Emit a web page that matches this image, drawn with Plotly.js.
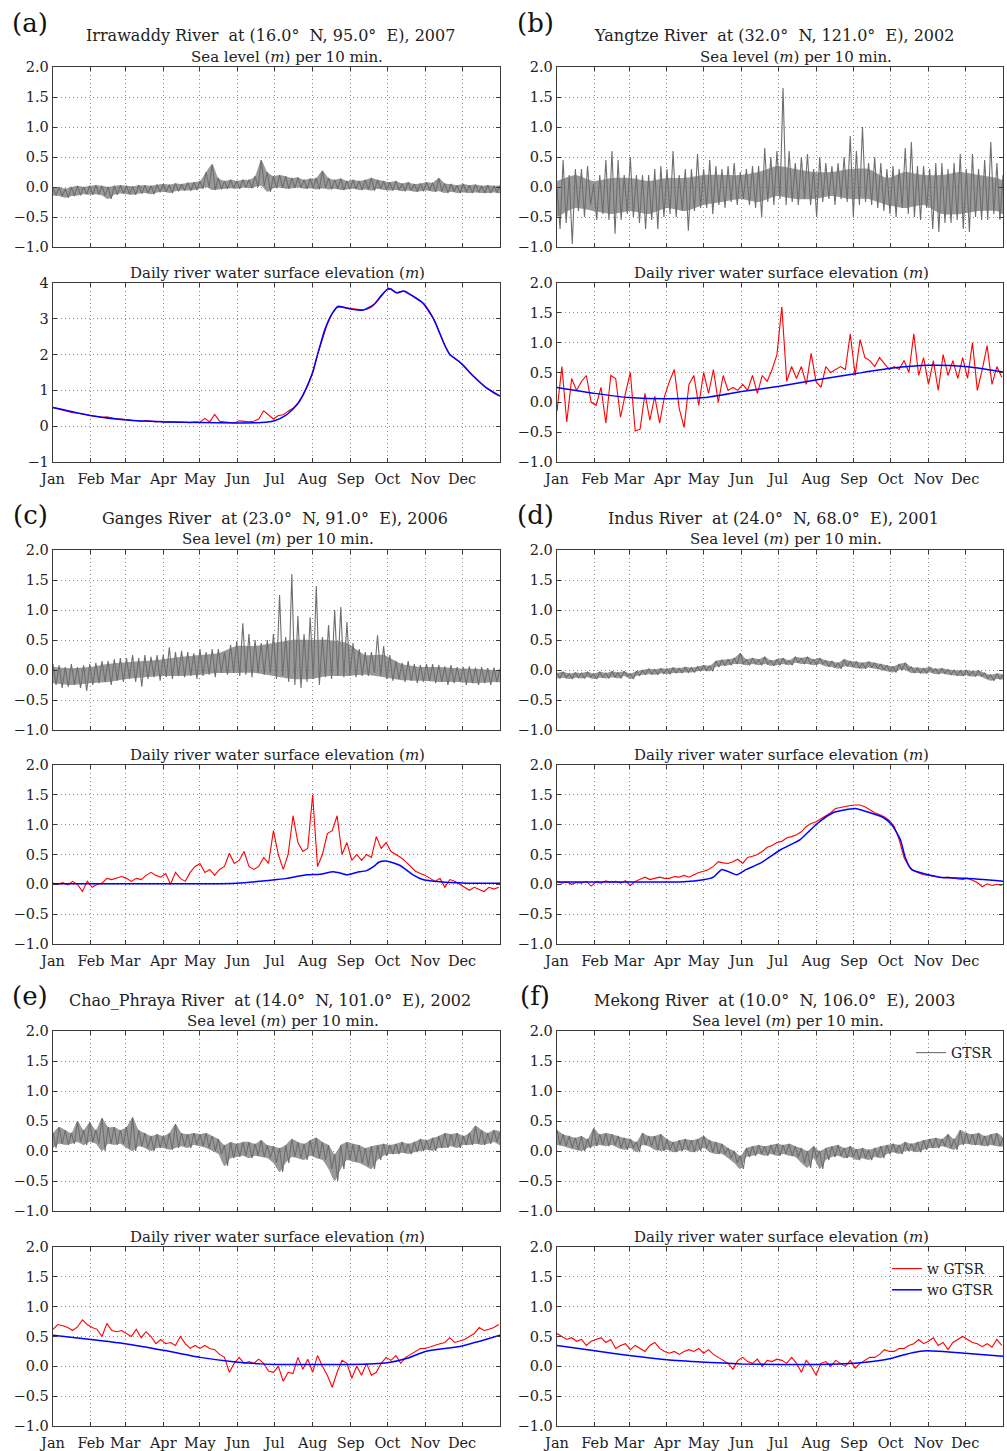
<!DOCTYPE html>
<html><head><meta charset="utf-8">
<script src="https://cdn.plot.ly/plotly-3.0.1.min.js"></script>
<style>html,body{margin:0;padding:0;background:#fff}#chart{width:1007px;height:1451px}</style>
</head><body><div id="chart"></div>
<script>
// ---------------- data ----------------
const months = ['Jan','Feb','Mar','Apr','May','Jun','Jul','Aug','Sep','Oct','Nov','Dec'];
const monthStartDays = [0,31,59,90,120,151,181,212,243,273,304,334];
const panelLetters = ['(a)','(b)','(c)','(d)','(e)','(f)'];
const riverNames = ['Irrawaddy','Yangtze','Ganges','Indus','Chao_Phraya','Mekong'];
const latitudes = ['16.0','32.0','23.0','24.0','14.0','10.0'];
const longitudes = ['95.0','121.0','91.0','68.0','101.0','106.0'];
const years = ['2007','2002','2006','2001','2002','2003'];
const seaTitle = 'Sea level (<i>m</i>) per 10 min.';
const riverTitle = 'Daily river water surface elevation (<i>m</i>)';

// sea level (10-min GTSR) band: upper / lower values read every 5 days (day 0..365)
const seaHiA = [-0.02,0.0,-0.03,0.0,0.02,0.0,0.02,0.03,0.02,0.0, 0.02,0.03,0.02,0.01,0.03,0.03,0.02,0.04,0.05,0.04, 0.06,0.05,0.07,0.08,0.1,0.25,0.38,0.15,0.1,0.12, 0.1,0.12,0.12,0.18,0.45,0.25,0.18,0.2,0.18,0.15, 0.16,0.12,0.14,0.15,0.27,0.15,0.12,0.14,0.1,0.12, 0.1,0.12,0.15,0.12,0.1,0.08,0.1,0.06,0.08,0.05, 0.06,0.08,0.07,0.15,0.06,0.05,0.03,0.05,0.03,0.04, 0.02,0.03,0.02,0.02];
const seaLoA = [-0.14,-0.15,-0.18,-0.15,-0.14,-0.12,-0.13,-0.12,-0.14,-0.2, -0.13,-0.11,-0.12,-0.13,-0.11,-0.1,-0.12,-0.09,-0.08,-0.1, -0.07,-0.06,-0.06,-0.05,-0.03,0.0,-0.05,-0.04,-0.03,-0.02, -0.03,-0.01,-0.02,0.0,0.02,-0.08,-0.02,-0.01,-0.03,-0.02, -0.01,-0.03,-0.02,-0.04,-0.02,-0.04,-0.03,-0.05,-0.04,-0.03, -0.05,-0.04,-0.06,-0.03,-0.05,-0.06,-0.05,-0.07,-0.06,-0.08, -0.07,-0.06,-0.08,-0.07,-0.1,-0.08,-0.1,-0.09,-0.1,-0.09, -0.1,-0.1,-0.09,-0.1];
const seaHiB = [0.0,0.45,0.2,0.3,0.3,0.35,0.05,0.2,0.45,0.6, 0.45,0.2,0.5,0.2,0.2,0.2,0.3,0.35,0.3,0.6, 0.2,0.3,0.3,0.55,0.3,0.45,0.35,0.3,0.35,0.4, 0.25,0.3,0.35,0.35,0.65,0.5,0.6,1.65,0.6,0.4, 0.5,0.55,0.3,0.5,0.4,0.35,0.4,0.5,0.85,0.6, 1.0,0.4,0.5,0.4,0.3,0.35,0.3,0.65,0.75,0.35, 0.35,0.3,0.4,0.4,0.3,0.4,0.55,0.3,0.55,0.3, 0.45,0.75,0.4,0.2];
const seaLoB = [-0.7,-0.6,-0.95,-0.4,-0.5,-0.3,-0.55,-0.45,-0.55,-0.78, -0.55,-0.45,-0.5,-0.6,-0.7,-0.55,-0.7,-0.5,-0.45,-0.5, -0.4,-0.73,-0.4,-0.35,-0.35,-0.45,-0.3,-0.35,-0.25,-0.3, -0.2,-0.3,-0.35,-0.5,-0.25,-0.3,-0.2,-0.3,-0.25,-0.3, -0.2,-0.3,-0.5,-0.25,-0.2,-0.3,-0.2,-0.25,-0.5,-0.3, -0.25,-0.3,-0.35,-0.4,-0.45,-0.5,-0.35,-0.45,-0.5,-0.55, -0.35,-0.7,-0.75,-0.6,-0.6,-0.55,-0.7,-0.75,-0.5,-0.55, -0.55,-0.45,-0.55,-0.6];
const seaHiC = [0.1,0.08,0.05,0.1,0.05,0.08,0.1,0.12,0.15,0.15, 0.18,0.2,0.2,0.25,0.2,0.25,0.22,0.25,0.25,0.38, 0.3,0.32,0.3,0.28,0.35,0.3,0.35,0.35,0.3,0.42, 0.48,0.78,0.6,0.5,0.45,0.5,0.6,1.25,0.55,1.6, 0.9,0.6,0.88,1.4,0.55,0.75,1.0,1.05,0.8,0.45, 0.35,0.3,0.3,0.58,0.4,0.25,0.15,0.12,0.15,0.1, 0.08,0.1,0.1,0.08,0.06,0.08,0.05,0.05,0.06,0.04, 0.05,0.03,0.04,0.02];
const seaLoC = [-0.25,-0.3,-0.28,-0.25,-0.3,-0.35,-0.25,-0.22,-0.2,-0.25, -0.18,-0.2,-0.15,-0.2,-0.28,-0.15,-0.12,-0.18,-0.12,-0.15, -0.1,-0.12,-0.1,-0.15,-0.1,-0.08,-0.12,-0.05,-0.08,-0.05, -0.1,-0.08,-0.12,-0.05,-0.08,-0.05,-0.15,-0.1,-0.2,-0.25, -0.3,-0.2,-0.15,-0.25,-0.12,-0.15,-0.1,-0.12,-0.1,-0.12, -0.1,-0.1,-0.05,-0.1,-0.15,-0.18,-0.15,-0.2,-0.18,-0.22, -0.2,-0.18,-0.22,-0.2,-0.25,-0.22,-0.2,-0.25,-0.22,-0.25, -0.22,-0.25,-0.2,-0.22];
const seaHiD = [-0.05,-0.03,-0.06,-0.04,-0.05,-0.03,-0.06,-0.03,-0.05,-0.02, -0.04,-0.02,-0.06,-0.02,0.0,0.02,0.01,0.03,0.02,0.04, 0.03,0.05,0.04,0.06,0.08,0.07,0.15,0.17,0.18,0.2, 0.28,0.18,0.2,0.18,0.22,0.16,0.18,0.2,0.16,0.22, 0.2,0.22,0.18,0.2,0.16,0.15,0.12,0.18,0.15,0.14, 0.12,0.14,0.12,0.1,0.08,0.06,0.1,0.12,0.05,0.04, 0.03,0.05,0.02,0.03,0.01,0.0,-0.01,0.0,-0.02,-0.01, -0.05,-0.08,-0.06,-0.08];
const seaLoD = [-0.14,-0.13,-0.15,-0.13,-0.14,-0.12,-0.15,-0.13,-0.14,-0.12, -0.14,-0.1,-0.15,-0.1,-0.08,-0.07,-0.08,-0.06,-0.07,-0.05, -0.05,-0.04,-0.04,-0.02,-0.01,-0.02,0.05,0.07,0.08,0.1, 0.1,0.08,0.1,0.08,0.1,0.07,0.08,0.1,0.08,0.12, 0.1,0.1,0.08,0.1,0.06,0.05,0.02,0.06,0.05,0.03, 0.02,0.04,0.02,0.0,-0.02,-0.04,0.0,0.0,-0.05,-0.05, -0.06,-0.04,-0.07,-0.06,-0.08,-0.09,-0.1,-0.09,-0.11,-0.1, -0.14,-0.18,-0.15,-0.16];
const seaHiE = [0.3,0.4,0.35,0.3,0.5,0.35,0.48,0.35,0.55,0.4, 0.4,0.35,0.4,0.56,0.35,0.3,0.25,0.28,0.25,0.3, 0.45,0.3,0.28,0.3,0.28,0.3,0.25,0.2,0.1,0.15, 0.12,0.15,0.15,0.12,0.18,0.1,0.08,0.05,0.1,0.2, 0.15,0.12,0.18,0.22,0.15,0.1,-0.05,0.1,0.15,0.12, 0.1,0.05,0.08,0.1,0.12,0.1,0.12,0.15,0.12,0.15, 0.2,0.18,0.22,0.25,0.3,0.28,0.3,0.25,0.3,0.42, 0.35,0.3,0.35,0.32];
const seaLoE = [0.05,0.12,0.1,0.12,0.15,0.1,0.15,0.12,0.0,0.12, 0.1,0.12,0.05,0.0,0.08,0.05,0.0,0.05,0.05,0.02, 0.05,0.08,0.05,0.1,0.08,0.05,0.0,-0.05,-0.25,-0.12, -0.1,-0.08,-0.12,-0.08,-0.1,-0.12,-0.2,-0.35,-0.2,-0.1, -0.12,-0.15,-0.08,-0.12,-0.15,-0.3,-0.5,-0.3,-0.15,-0.18, -0.2,-0.25,-0.3,-0.15,-0.08,-0.05,-0.05,-0.03,-0.05,-0.02, 0.0,0.02,0.0,0.05,0.05,0.08,0.05,0.1,0.1,0.12, 0.1,0.12,0.15,0.1];
const seaHiF = [0.35,0.28,0.25,0.22,0.25,0.2,0.38,0.28,0.3,0.28, 0.25,0.22,0.2,0.15,0.3,0.25,0.25,0.28,0.2,0.15, 0.18,0.2,0.18,0.2,0.25,0.18,0.15,0.12,0.05,0.0, -0.08,0.05,0.08,0.1,0.08,0.1,0.12,0.1,0.12,0.08, 0.05,0.0,0.08,0.0,0.05,0.08,0.1,0.05,0.08,0.03, 0.05,0.02,0.05,0.08,0.1,0.12,0.1,0.15,0.12,0.15, 0.18,0.2,0.22,0.2,0.28,0.2,0.35,0.3,0.28,0.3, 0.25,0.28,0.3,0.22];
const seaLoF = [0.1,0.08,0.05,0.02,0.0,0.05,0.08,0.1,0.08,0.1, 0.05,0.02,0.05,-0.02,0.1,0.08,0.02,0.0,0.02,-0.02, 0.0,0.02,-0.02,0.0,0.05,-0.02,-0.05,-0.05,-0.12,-0.2, -0.3,-0.1,-0.08,-0.05,-0.08,-0.05,-0.08,-0.05,-0.08,-0.1, -0.2,-0.28,-0.12,-0.3,-0.15,-0.1,-0.08,-0.12,-0.1,-0.15, -0.12,-0.15,-0.1,-0.12,-0.05,-0.02,-0.05,0.0,0.0,-0.02, 0.02,0.05,0.05,0.08,0.05,0.02,0.1,0.12,0.1,0.1, 0.08,0.1,0.08,0.08];

// dense core of the noisier sea-level records (b, c), read at these days
const coreDays = [0,15,30,45,60,75,90,105,120,135,150,165,180,195,210,225,240,255,270,285,300,315,330,345,360,365];
const seaCoreHiB = [0.1,0.2,0.1,0.15,0.15,0.1,0.15,0.15,0.2,0.2,0.2,0.25,0.35,0.3,0.25,0.25,0.3,0.3,0.15,0.25,0.2,0.2,0.25,0.2,0.15,0.1];
const seaCoreLoB = [-0.5,-0.35,-0.4,-0.45,-0.4,-0.45,-0.35,-0.4,-0.3,-0.25,-0.2,-0.25,-0.15,-0.2,-0.2,-0.15,-0.2,-0.2,-0.3,-0.35,-0.3,-0.45,-0.45,-0.4,-0.4,-0.45];
const seaCoreHiC = [0.05,0.03,0.05,0.1,0.13,0.15,0.18,0.22,0.25,0.28,0.4,0.4,0.45,0.5,0.5,0.5,0.45,0.25,0.25,0.1,0.05,0.05,0.03,0.02,0.0,0.0];
const seaCoreLoC = [-0.22,-0.25,-0.22,-0.2,-0.15,-0.12,-0.1,-0.1,-0.08,-0.05,-0.05,-0.05,-0.1,-0.15,-0.15,-0.1,-0.1,-0.08,-0.12,-0.17,-0.18,-0.2,-0.2,-0.22,-0.2,-0.2];

// daily river elevation with GTSR (red), read every 4 days (day 0..364)
const riverWithA = [0.52,0.48,0.45,0.4,0.38,0.36,0.34,0.33,0.3,0.27, 0.25,0.26,0.22,0.2,0.2,0.18,0.16,0.15,0.14,0.16, 0.13,0.12,0.14,0.12,0.13,0.12,0.11,0.12,0.1,0.12, 0.11,0.22,0.12,0.33,0.14,0.12,0.11,0.09,0.15,0.13, 0.12,0.14,0.2,0.43,0.32,0.2,0.3,0.32,0.42,0.5, 0.65,0.85,1.15,1.5,2.0,2.45,2.85,3.15,3.33,3.32, 3.3,3.28,3.27,3.25,3.26,3.32,3.45,3.62,3.8,3.84, 3.73,3.76,3.77,3.68,3.6,3.5,3.38,3.18,2.92,2.6, 2.25,2.0,1.9,1.8,1.68,1.52,1.38,1.25,1.12,1.02, 0.92,0.85];
const riverWithB = [-0.15,0.6,-0.33,0.4,0.2,0.35,0.45,0.0,-0.05,0.25, -0.35,0.45,0.4,-0.25,0.15,0.5,-0.48,-0.45,0.15,-0.3, 0.1,-0.35,0.1,0.35,0.55,-0.1,-0.42,0.3,0.45,-0.05, 0.5,0.15,0.55,0.0,0.45,0.2,0.25,0.2,0.3,0.2, 0.45,0.15,0.45,0.35,0.55,0.8,1.6,0.35,0.6,0.4, 0.6,0.3,0.82,0.35,0.25,0.6,0.5,0.55,0.6,0.55, 1.15,0.45,1.05,0.75,0.7,0.6,0.75,0.65,0.55,0.6, 0.55,0.7,0.5,1.15,0.45,0.75,0.3,0.7,0.2,0.8, 0.45,0.7,0.4,0.75,0.4,1.0,0.2,0.55,0.95,0.3, 0.6,0.42];
const riverWithC = [0.02,0.0,0.03,-0.01,0.05,0.0,-0.12,0.05,-0.05,0.0, 0.02,0.1,0.08,0.1,0.13,0.1,0.05,0.1,0.08,0.15, 0.2,0.15,0.12,0.18,0.0,0.2,0.1,0.05,0.2,0.3, 0.35,0.2,0.25,0.15,0.25,0.3,0.52,0.35,0.4,0.55, 0.3,0.25,0.3,0.45,0.35,0.9,0.5,0.25,0.5,1.15, 0.7,0.55,0.6,1.5,0.3,0.5,0.85,0.9,1.15,0.5, 0.7,0.4,0.5,0.4,0.5,0.45,0.8,0.6,0.7,0.55, 0.5,0.45,0.38,0.3,0.22,0.18,0.15,0.1,0.05,0.1, -0.05,0.08,0.05,0.0,-0.05,-0.1,-0.05,-0.08,-0.12,-0.05, -0.08,-0.05];
const riverWithD = [0.05,0.02,0.04,0.0,0.03,0.02,0.05,-0.03,0.04,0.02, 0.06,0.03,0.05,0.02,0.06,-0.02,0.05,0.08,0.12,0.08, 0.1,0.12,0.1,0.1,0.13,0.12,0.15,0.12,0.16,0.2, 0.22,0.25,0.3,0.38,0.36,0.35,0.38,0.42,0.35,0.45, 0.47,0.5,0.55,0.62,0.65,0.7,0.72,0.78,0.8,0.83, 0.88,0.97,1.02,1.05,1.1,1.15,1.2,1.27,1.29,1.31, 1.32,1.33,1.33,1.3,1.25,1.2,1.17,1.13,1.07,0.97, 0.75,0.45,0.3,0.23,0.19,0.16,0.15,0.14,0.12,0.11, 0.12,0.1,0.09,0.08,0.1,0.07,0.03,-0.04,0.01,-0.02, 0.0,-0.02];
const riverWithE = [0.62,0.7,0.68,0.65,0.6,0.66,0.78,0.7,0.65,0.62, 0.5,0.72,0.6,0.58,0.6,0.55,0.5,0.62,0.48,0.58, 0.5,0.38,0.45,0.38,0.4,0.35,0.5,0.38,0.3,0.35, 0.3,0.35,0.3,0.28,0.2,0.15,-0.1,0.05,0.15,0.05, 0.08,0.05,0.12,0.05,-0.08,-0.1,0.0,-0.25,-0.1,-0.12, 0.15,-0.05,0.12,-0.1,0.18,0.0,-0.15,-0.35,-0.1,0.1, 0.05,-0.2,0.0,-0.15,0.05,-0.15,-0.1,0.05,0.15,0.1, 0.18,0.05,0.15,0.2,0.25,0.3,0.3,0.33,0.35,0.38, 0.4,0.48,0.4,0.42,0.45,0.5,0.55,0.65,0.6,0.62, 0.65,0.7];
const riverWithF = [0.55,0.5,0.45,0.48,0.42,0.45,0.35,0.42,0.45,0.48, 0.4,0.45,0.3,0.35,0.38,0.28,0.35,0.3,0.25,0.35, 0.4,0.3,0.25,0.22,0.25,0.2,0.25,0.28,0.25,0.3, 0.22,0.28,0.2,0.15,0.1,0.05,-0.05,0.1,0.15,0.08, 0.05,0.12,0.0,0.1,0.08,0.12,0.1,0.05,0.15,0.05, -0.1,0.1,0.0,-0.15,0.05,0.08,0.0,0.1,0.05,0.0, 0.1,-0.03,0.05,0.1,0.15,0.15,0.2,0.28,0.25,0.25, 0.3,0.3,0.35,0.38,0.45,0.38,0.42,0.48,0.35,0.4, 0.28,0.4,0.45,0.5,0.45,0.4,0.38,0.33,0.38,0.32, 0.45,0.35];

// daily river elevation without GTSR (blue): day-of-year and value pairs
const riverWoDaysA = [0,30,60,90,120,150,170,181,190,196,200,206,212,216,222,228,233,243,253,262,268,274,281,286,294,302,311,319,324,332,343,354,365];
const riverWoA = [0.52,0.3,0.17,0.12,0.1,0.09,0.1,0.15,0.3,0.48,0.63,1.0,1.5,2.0,2.7,3.15,3.35,3.27,3.24,3.4,3.65,3.85,3.72,3.78,3.63,3.44,2.98,2.33,2.0,1.8,1.4,1.07,0.84];
const riverWoDaysB = [0,31,59,90,121,151,182,213,244,273,304,334,365];
const riverWoB = [0.25,0.15,0.08,0.06,0.08,0.18,0.27,0.38,0.48,0.57,0.62,0.6,0.51];
const riverWoDaysC = [0,60,120,150,169,183,191,207,218,229,236,240,248,256,262,266,272,283,294,302,311,324,338,365];
const riverWoC = [0.01,0.01,0.01,0.02,0.05,0.08,0.1,0.16,0.17,0.21,0.18,0.16,0.2,0.23,0.3,0.37,0.39,0.32,0.16,0.08,0.05,0.03,0.02,0.02];
const riverWoDaysD = [0,60,100,121,128,135,147,155,166,183,199,213,226,244,253,267,274,281,285,290,300,313,335,365];
const riverWoD = [0.04,0.04,0.04,0.08,0.12,0.25,0.16,0.25,0.35,0.58,0.75,1.02,1.2,1.27,1.22,1.12,1.0,0.75,0.45,0.25,0.18,0.12,0.1,0.05];
const riverWoDaysE = [0,31,59,90,120,151,181,212,243,273,290,304,334,365];
const riverWoE = [0.52,0.45,0.38,0.27,0.15,0.07,0.03,0.03,0.03,0.06,0.14,0.25,0.34,0.52];
const riverWoDaysF = [0,31,59,90,121,151,182,213,244,258,273,285,296,304,334,365];
const riverWoF = [0.35,0.26,0.18,0.11,0.07,0.04,0.03,0.03,0.05,0.08,0.13,0.2,0.25,0.26,0.22,0.17];

const seaHi = [seaHiA,seaHiB,seaHiC,seaHiD,seaHiE,seaHiF];
const seaLo = [seaLoA,seaLoB,seaLoC,seaLoD,seaLoE,seaLoF];
const seaCoreHi = [null,seaCoreHiB,seaCoreHiC,null,null,null];
const seaCoreLo = [null,seaCoreLoB,seaCoreLoC,null,null,null];
const riverWith = [riverWithA,riverWithB,riverWithC,riverWithD,riverWithE,riverWithF];
const riverWoDays = [riverWoDaysA,riverWoDaysB,riverWoDaysC,riverWoDaysD,riverWoDaysE,riverWoDaysF];
const riverWo = [riverWoA,riverWoB,riverWoC,riverWoD,riverWoE,riverWoF];

// ---------------- layout geometry ----------------
const W = 1007, H = 1451;
const FONT = '"DejaVu Serif", serif';
const SEA_STEP = 5, RIVER_STEP = 4;
const px = v => v / W, py = v => 1 - v / H;
const colX = [[53, 500], [557, 1003]];
const rowY = [ [[67,247],[283,462]], [[550,730],[765,944]], [[1031,1211],[1247,1426]] ];
const letterY = [23, 515, 996], titleY = [35, 518, 1000], subY = [57, 539, 1021], riverTitleY = [273, 755, 1237];
const letterX = [30, 535];
const titleX = [270, 774, 275, 773, 270, 774];
const subX = [287, 796, 278, 786, 283, 788];

const traces = [];
const layout = {
  width: W, height: H, margin: {l:0, r:0, t:0, b:0},
  paper_bgcolor: '#fff', plot_bgcolor: '#fff',
  font: {family: FONT, size: 14, color: '#222'},
  showlegend: true, annotations: []
};

function axisBase() {
  return {showline:true, linecolor:'#3a3a3a', linewidth:1.3, mirror:'allticks', ticks:'inside', ticklen:4,
    tickcolor:'#3a3a3a', showgrid:true, gridcolor:'#8a8a8a', griddash:'1px,3px', gridwidth:1, zeroline:false,
    tickfont:{family:FONT, size:14.5, color:'#222'}, fixedrange:true};
}

for (let p = 0; p < 6; p++) {
  const col = p % 2, row = Math.floor(p / 2);
  const nTop = 2*p + 1, nBot = 2*p + 2;
  const xd = [px(colX[col][0]), px(colX[col][1])];
  [nTop, nBot].forEach((n, k) => {
    const yy = rowY[row][k];
    const xa = Object.assign(axisBase(), {domain: xd, range: [0, 365], tickmode: 'array',
      tickvals: monthStartDays, ticktext: months, showticklabels: k === 1, anchor: 'y' + n, ticklabelstandoff: 3});
    const isBig = (p === 0 && k === 1);
    const ya = Object.assign(axisBase(), {domain: [py(yy[1]), py(yy[0])], range: isBig ? [-1, 4] : [-1, 2],
      tickmode: 'linear', tick0: 0, dtick: isBig ? 1 : 0.5, tickformat: isBig ? 'd' : '.1f', anchor: 'x' + n});
    layout['xaxis' + n] = xa;
    layout['yaxis' + n] = ya;
  });
  const xT = 'x' + nTop, yT = 'y' + nTop, xB = 'x' + nBot, yB = 'y' + nBot;

  // sea level band: filled envelope (dense core where the record is spiky) ...
  const bx = [], by = [];
  if (seaCoreHi[p]) {
    seaCoreHi[p].forEach((v, i) => { bx.push(coreDays[i]); by.push(v); });
    for (let i = seaCoreLo[p].length - 1; i >= 0; i--) { bx.push(coreDays[i]); by.push(seaCoreLo[p][i]); }
  } else {
    seaHi[p].forEach((v, i) => { bx.push(i * SEA_STEP); by.push(v); });
    for (let i = seaLo[p].length - 1; i >= 0; i--) { bx.push(i * SEA_STEP); by.push(seaLo[p][i]); }
  }
  traces.push({type:'scatter', mode:'lines', x: bx, y: by, xaxis: xT, yaxis: yT, fill:'toself',
    fillcolor: 'rgba(110,110,110,0.7)', line:{width:0, color:'rgba(0,0,0,0)', shape:'spline', smoothing:0.6},
    showlegend:false, hoverinfo:'skip'});
  // ... plus a zig-zag between the read upper/lower values for the noisy texture and spikes
  const zx = [], zy = [];
  seaHi[p].forEach((v, i) => {
    zx.push(i * SEA_STEP); zy.push(v);
    zx.push(i * SEA_STEP + SEA_STEP / 2); zy.push(seaLo[p][i]);
  });
  traces.push({type:'scatter', mode:'lines', x: zx, y: zy, xaxis: xT, yaxis: yT,
    line:{color:'#6e6e6e', width:1.1}, name:'GTSR', showlegend: p === 5, legend:'legend', hoverinfo:'skip'});

  // daily river elevation
  const rx = riverWith[p].map((_, i) => i * RIVER_STEP);
  traces.push({type:'scatter', mode:'lines', x: rx, y: riverWith[p], xaxis: xB, yaxis: yB,
    line:{color:'#ff0000', width:1.1}, name:'w GTSR', showlegend: p === 5, legend:'legend2', hoverinfo:'skip'});
  traces.push({type:'scatter', mode:'lines', x: riverWoDays[p], y: riverWo[p], xaxis: xB, yaxis: yB,
    line:{color:'#0000ff', width:1.5, shape:'spline', smoothing:0.5}, name:'wo GTSR', showlegend: p === 5, legend:'legend2', hoverinfo:'skip'});

  // texts
  layout.annotations.push({text: panelLetters[p], xref:'paper', yref:'paper', x: px(letterX[col]), y: py(letterY[row]),
    xanchor:'center', yanchor:'middle', showarrow:false, font:{family:FONT, size:26, color:'#111'}});
  layout.annotations.push({text: riverNames[p] + ' River\u00a0 at (' + latitudes[p] + '°\u00a0 N, ' + longitudes[p] + '°\u00a0 E), ' + years[p],
    xref:'paper', yref:'paper', x: px(titleX[p]), y: py(titleY[row]), xanchor:'center', yanchor:'middle', showarrow:false,
    font:{family:FONT, size:16, color:'#222'}});
  layout.annotations.push({text: seaTitle, xref:'paper', yref:'paper', x: px(subX[p]), y: py(subY[row]),
    xanchor:'center', yanchor:'middle', showarrow:false, font:{family:FONT, size:15, color:'#222'}});
  layout.annotations.push({text: riverTitle, xref:'paper', yref:'paper', x: px((colX[col][0] + colX[col][1]) / 2 + 1), y: py(riverTitleY[row]),
    xanchor:'center', yanchor:'middle', showarrow:false, font:{family:FONT, size:15, color:'#222'}});
}

layout.legend = {x: px(998), xanchor:'right', y: py(1037), yanchor:'top', bgcolor:'rgba(0,0,0,0)', borderwidth:0,
  font:{family:FONT, size:14, color:'#222'}, itemwidth:30};
layout.legend2 = {x: px(998), xanchor:'right', y: py(1253), yanchor:'top', bgcolor:'rgba(0,0,0,0)', borderwidth:0,
  font:{family:FONT, size:14, color:'#222'}, itemwidth:30, tracegroupgap:0};

Plotly.newPlot('chart', traces, layout, {displayModeBar:false, staticPlot:true});
</script>
</body></html>
